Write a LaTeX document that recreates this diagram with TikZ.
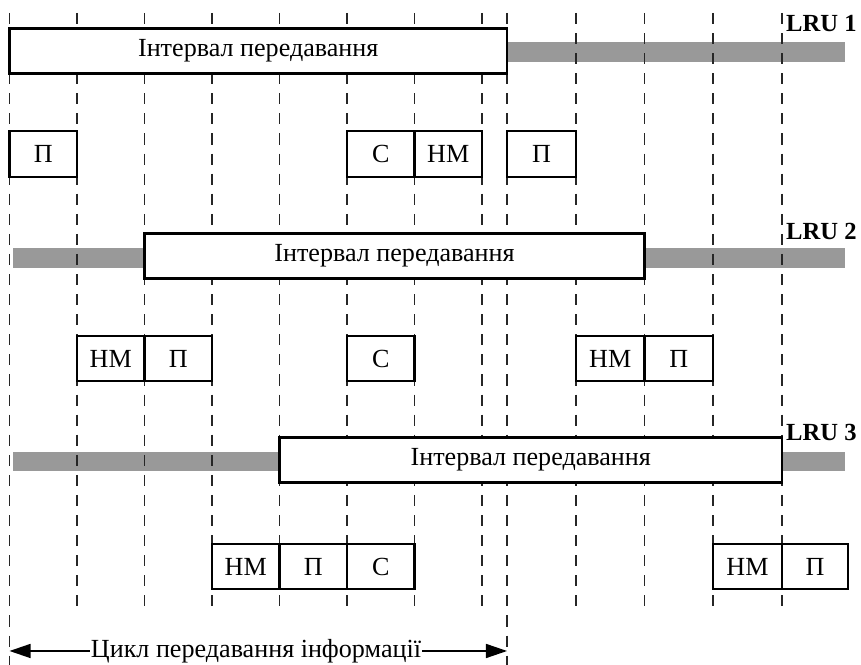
\documentclass[tikz,border=0pt]{standalone}
\usepackage{fontspec}
\setmainfont{Liberation Serif}
\usetikzlibrary{arrows.meta}

\definecolor{idlegray}{gray}{0.6}

\tikzset{
  tick/.style={line width=1.4pt, black!85, dash pattern=on 11pt off 9pt},
  interval/.style={draw, line width=2.2pt, fill=white, inner sep=0pt,
    minimum height=1.58cm, font=\fontsize{26}{30}\selectfont},
  slot/.style={draw, line width=2.2pt, fill=white, inner sep=0pt,
    minimum height=1.6cm, minimum width=2.3625cm, font=\fontsize{26}{30}\selectfont},
  lru/.style={anchor=west, inner sep=0pt, font=\fontsize{24.5}{28}\selectfont\bfseries},
  cycle/.style={-{Triangle[length=21pt,width=14pt]}, line width=1.4pt}
}

\begin{document}
\begin{tikzpicture}[scale=0.35]
\useasboundingbox (0,0) rectangle (86.1,66.5);

\fill[idlegray] (50.7,60.3) rectangle (84.5,62.3);
\fill[idlegray] (1.3,39.7) rectangle (14.45,41.7);
\fill[idlegray] (64.45,39.7) rectangle (84.5,41.7);
\fill[idlegray] (1.3,19.4) rectangle (27.95,21.3);
\fill[idlegray] (78.2,19.4) rectangle (84.5,21.3);

\foreach \x in {0.95,50.7}
  \draw[tick] (\x,65.2) -- (\x,0);
\foreach \x in {7.7,14.45,21.2,27.95,34.7,41.45,48.2,57.6,64.45,71.3,78.2}
  \draw[tick] (\x,65.2) -- (\x,5);

\node[interval, minimum width=17.41cm] (int1) at (25.825,61.4) {Інтервал передавання};
\node[lru] (lru1) at (78.6,64.1) {LRU 1};

\node[slot] (p11) at (4.325,51.1) {П};
\node[slot] (c11) at (38.075,51.1) {С};
\node[slot] (n11) at (44.825,51.1) {НМ};
\node[slot, minimum width=2.415cm] (p12) at (54.15,51.1) {П};

\node[interval, minimum width=17.5cm] (int2) at (39.45,40.9) {Інтервал передавання};
\node[lru] (lru2) at (78.6,43.4) {LRU 2};

\node[slot] (n21) at (11.075,30.65) {НМ};
\node[slot] (p21) at (17.825,30.65) {П};
\node[slot] (c21) at (38.075,30.65) {С};
\node[slot, minimum width=2.4cm] (n22) at (61.025,30.65) {НМ};
\node[slot, minimum width=2.4cm] (p22) at (67.875,30.65) {П};

\node[interval, minimum width=17.59cm] (int3) at (53.075,20.5) {Інтервал передавання};
\node[lru] (lru3) at (78.6,23.3) {LRU 3};

\node[slot] (n31) at (24.575,9.85) {НМ};
\node[slot] (p31) at (31.325,9.85) {П};
\node[slot] (c31) at (38.075,9.85) {С};
\node[slot, minimum width=2.415cm] (n32) at (74.75,9.85) {НМ};
\node[slot, minimum width=2.31cm] (p32) at (81.5,9.85) {П};

\coordinate (start) at (0.95,1.4);
\coordinate (stop) at (50.7,1.4);
\node[inner sep=1pt, font=\fontsize{26}{30}\selectfont] (cyc) at (25.6,1.4) {Цикл передавання інформації};
\draw[cycle] (cyc.west) -- (start);
\draw[cycle] (cyc.east) -- (stop);
\end{tikzpicture}
\end{document}
